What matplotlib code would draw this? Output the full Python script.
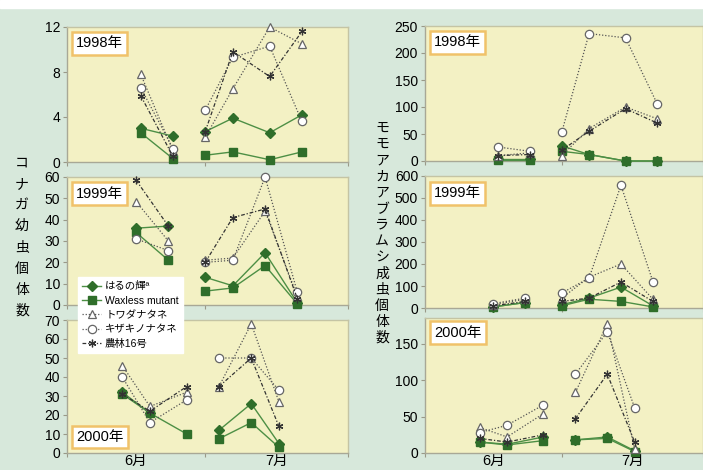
import numpy as np
import matplotlib
matplotlib.use('Agg')
import matplotlib.pyplot as plt
from matplotlib.lines import Line2D
from matplotlib.patches import Rectangle

plt.rcParams['font.family'] = ['Liberation Sans', 'Noto Sans CJK JP', 'DejaVu Sans']

# --- data (days counted from 1 June) ---
years = ['1998年', '1999年', '2000年']
x_days = {
    '1998年': [16, 23, 30, 36, 44, 51],
    '1999年': [15, 22, 30, 36, 43, 50],
    '2000年': [12, 18, 26, 33, 40, 46],
}
# index where the July group starts (line is broken there)
july_start = {'1998年': 2, '1999年': 2, '2000年': 3}

cultivars = ['はるの輝ª', 'Waxless mutant', 'トワダナタネ', 'キザキノナタネ', '農林16号']

# コナガ幼虫 (diamondback moth larvae)
konaga = {
    '1998年': [[3.0, 2.3, 2.7, 3.9, 2.6, 4.2],
              [2.6, 0.3, 0.6, 0.9, 0.2, 0.9],
              [7.8, 1.0, 2.2, 6.5, 12.0, 10.5],
              [6.6, 1.2, 4.6, 9.3, 10.3, 3.6],
              [5.9, 0.5, 2.7, 9.8, 7.6, 11.6]],
    '1999年': [[36, 37, 13, 9, 24.5, 1],
              [34, 21, 6.5, 8, 18.5, 0.5],
              [48.5, 30, 21, 22, 44, 4],
              [31, 25.5, 20, 21, 60, 6],
              [58.5, 37, 20, 41, 45, 3]],
    '2000年': [[32, 21, np.nan, 12, 26, 5],
              [31, 21, 10, 7.5, 16, 3],
              [46, 24.5, 32, 35, 68, 27],
              [40, 16, 28, 50, 50, 33],
              [31, 22, 35, 35, 50, 14]],
}
# モモアカアブラムシ成虫 (green peach aphid adults)
aphid = {
    '1998年': [[3, 3, 28, 12, 0, 0],
              [2, 2, 18, 12, 0, 0],
              [10, 15, 10, 60, 100, 78],
              [26, 18, 53, 236, 228, 105],
              [10, 12, 20, 55, 97, 70]],
    '1999年': [[5, 25, 15, 45, 95, 10],
              [5, 25, 10, 40, 30, 5],
              [15, 40, 45, 140, 200, 40],
              [20, 45, 68, 136, 558, 120],
              [10, 30, 30, 45, 118, 30]],
    '2000年': [[15, 12, 22, 18, 22, 3],
              [15, 11, 17, 18, 20, 2],
              [35, 22, 54, 83, 177, 5],
              [28, 38, 66, 108, 166, 62],
              [20, 15, 25, 47, 108, 15]],
}

left_ylim = [12, 60, 70]
left_yticks = [[0, 4, 8, 12], [0, 10, 20, 30, 40, 50, 60], [0, 10, 20, 30, 40, 50, 60, 70]]
right_ylim = [250, 600, 185]
right_yticks = [[0, 50, 100, 150, 200, 250], [0, 100, 200, 300, 400, 500, 600], [0, 50, 100, 150]]
month_labels = ['6月', '7月']

# --- styles ---
green_line = '#4d8f45'
green_mark = '#2f6e2a'
gray_line = '#555555'
styles = [
    dict(color=green_line, ls='-', lw=1.0, marker='D', ms=5.5, mfc=green_mark, mec=green_mark),
    dict(color=green_line, ls='-', lw=1.0, marker='s', ms=6, mfc=green_mark, mec=green_mark),
    dict(color=gray_line, ls=(0, (1, 1.5)), lw=0.9, marker='^', ms=6, mfc='white', mec='#666666', mew=0.9),
    dict(color=gray_line, ls=(0, (1, 1.5)), lw=0.9, marker='o', ms=6, mfc='white', mec='#666666', mew=0.9),
    dict(color='#333333', ls=(0, (3, 1.5, 1, 1.5)), lw=0.9, marker=(6, 2, 0), ms=5.5, mec='#333333', mew=0.9),
]

W, H = 703, 470
fig = plt.figure(figsize=(W / 100, H / 100), dpi=100)
fig.patch.set_facecolor('#d7e8db')
fig.patches.append(Rectangle((0, 1 - 8 / H), 1, 8 / H, transform=fig.transFigure,
                             color='white', zorder=0))


def rect(x0, x1, ytop, ybot):
    return [x0 / W, 1 - ybot / H, (x1 - x0) / W, (ybot - ytop) / H]


rows = [[(27, 162), (177, 305), (320, 453)],
        [(26, 161), (176, 308), (318, 453)]]
cols = [(67, 348, 61.0), (425, 703, 60.4)]
year_pos = [[(0.032, 0.88), (0.032, 0.87), (0.032, 0.12)],
            [(0.032, 0.88), (0.032, 0.87), (0.032, 0.89)]]

for c, (x0, x1, xmax) in enumerate(cols):
    data = konaga if c == 0 else aphid
    ylims = left_ylim if c == 0 else right_ylim
    ytks = left_yticks if c == 0 else right_yticks
    for r, (yt, yb) in enumerate(rows[c]):
        yr = years[r]
        ax = fig.add_axes(rect(x0, x1, yt, yb))
        ax.set_facecolor('#f3f1c4')
        xs = np.array(x_days[yr], dtype=float)
        s = july_start[yr]
        for vals, st in zip(data[yr], styles):
            v = np.array(vals, dtype=float)
            for seg in (slice(0, s), slice(s, None)):
                ax.plot(xs[seg], v[seg], clip_on=False, zorder=3, **st)
        ax.set_xlim(0, xmax)
        ax.set_ylim(0, ylims[r])
        ax.set_yticks(ytks[r])
        ax.set_xticks([0, 30, 61])
        ax.set_xticklabels([])
        ax.tick_params(axis='both', length=3, color='#999988', labelsize=10, pad=2)
        if r == 2:
            ax.set_xticks([15, 45.5], minor=True)
            ax.set_xticklabels(month_labels, minor=True, fontsize=10.5)
            ax.tick_params(axis='x', which='minor', length=0, pad=1)
        for side, sp in ax.spines.items():
            sp.set_color('#a8a896' if side in ('left', 'bottom') else '#c4c4a4')
            sp.set_linewidth(1.0)
        tx, ty = year_pos[c][r]
        ax.text(tx, ty, yr, transform=ax.transAxes, va='center', ha='left', fontsize=10.5,
                zorder=5,
                bbox=dict(boxstyle='square,pad=0.3', fc='white', ec='#f0c26a', lw=1.8))

# vertical axis titles, one character per line
left_title = 'コナガ幼虫個体数'
for i, ch in enumerate(left_title):
    fig.text(22 / W, 1 - (163 + i * 21.1) / H, ch, ha='center', va='center', fontsize=10)
right_title = 'モモアカアブラムシ成虫個体数'
for i, ch in enumerate(right_title):
    fig.text(382 / W, 1 - (128 + i * 16.15) / H, ch, ha='center', va='center', fontsize=10)

# legend
handles = [Line2D([], [], **st) for st in styles]
leg = fig.legend(handles, cultivars, loc='upper left', bbox_to_anchor=(78 / W, 1 - 277 / H),
                 fontsize=7.5, frameon=True, fancybox=False, edgecolor='white',
                 handlelength=1.8, handletextpad=0.4, borderpad=0.4, labelspacing=0.42,
                 borderaxespad=0)
leg.get_frame().set_facecolor('white')
leg.get_frame().set_alpha(1)

fig.savefig('out.png', dpi=100, facecolor=fig.get_facecolor())
